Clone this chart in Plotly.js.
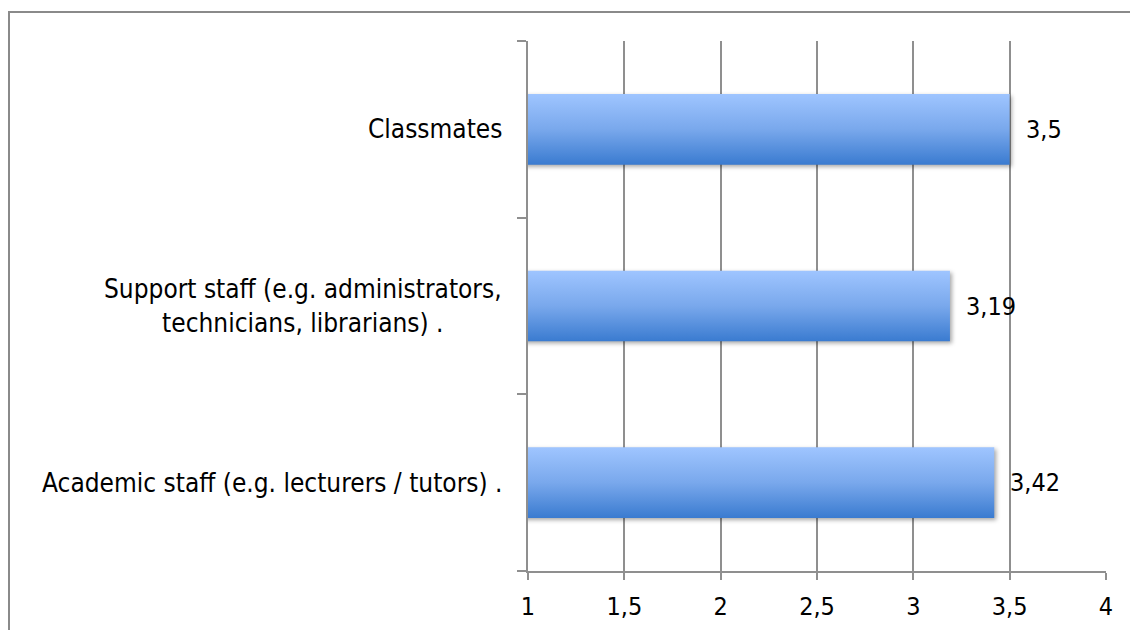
<!DOCTYPE html>
<html>
<head>
<meta charset="utf-8">
<script src="https://cdn.plot.ly/plotly-3.0.1.min.js"></script>
<style>
  html, body { margin: 0; padding: 0; background: #fff; }
  #chart { width: 1130px; height: 630px; }
</style>
</head>
<body>
<div id="chart"></div>
<script>
const categories = [
  "Academic staff (e.g. lecturers / tutors) .",
  "Support staff (e.g. administrators,<br>technicians, librarians) .",
  "Classmates"
];
const values = [3.42, 3.19, 3.5];
const valueLabels = ["3,42", "3,19", "3,5"];
const xTickVals = [1, 1.5, 2, 2.5, 3, 3.5, 4];
const xTickText = ["1", "1,5", "2", "2,5", "3", "3,5", "4"];

const FONT = '"DejaVu Sans Condensed", "DejaVu Sans", sans-serif';

const trace = {
  type: 'bar',
  orientation: 'h',
  x: values,
  y: categories,
  base: 0,
  width: 0.4,
  marker: { color: '#6a9be0', line: { width: 0 } },
  hoverinfo: 'skip'
};

const valueAnnotations = values.map((v, i) => ({
  x: v, y: categories[i], xref: 'x', yref: 'y',
  text: valueLabels[i], showarrow: false,
  xanchor: 'left', yanchor: 'middle', xshift: 14,
  font: { family: FONT, size: 25, color: '#000' }
}));

const categoryAnnotations = categories.map((c) => ({
  x: 0, y: c, xref: 'paper', yref: 'y',
  text: c, showarrow: false, align: 'center',
  xanchor: 'right', yanchor: 'middle', xshift: -24,
  font: { family: FONT, size: 26, color: '#000' }
}));

const layout = {
  width: 1130, height: 630,
  margin: { l: 528, r: 24, t: 41, b: 59, pad: 0 },
  paper_bgcolor: '#fff', plot_bgcolor: '#fff',
  showlegend: false,
  font: { family: FONT, size: 25, color: '#000' },
  xaxis: {
    range: [1, 4],
    tickvals: xTickVals, ticktext: xTickText,
    showgrid: true, gridcolor: '#8f8f8f', gridwidth: 2,
    zeroline: false,
    showline: true, linecolor: '#8f8f8f', linewidth: 2,
    ticks: 'outside', ticklen: 7, tickcolor: '#8f8f8f', tickwidth: 2,
    ticklabelstandoff: 5,
    tickfont: { family: FONT, size: 25, color: '#000' },
    fixedrange: true
  },
  yaxis: {
    type: 'category',
    range: [-0.5, 2.5],
    showgrid: false, zeroline: false,
    showline: true, linecolor: '#8f8f8f', linewidth: 2,
    ticks: 'outside', ticklen: 9, tickcolor: '#8f8f8f', tickwidth: 2,
    tickson: 'boundaries',
    showticklabels: false,
    fixedrange: true
  },
  annotations: valueAnnotations.concat(categoryAnnotations),
  shapes: [{
    type: 'rect', xref: 'paper', yref: 'paper',
    x0: (9 - 528) / 578, x1: 3, y0: -1, y1: (571 - 12) / 530,
    line: { color: '#8a8a8a', width: 2 }, fillcolor: 'rgba(0,0,0,0)', layer: 'below'
  }]
};

function applyGradient(gd) {
  const svg = gd.querySelector('svg.main-svg');
  const NS = 'http://www.w3.org/2000/svg';
  let defs = svg.querySelector('defs');
  if (!defs) { defs = document.createElementNS(NS, 'defs'); svg.insertBefore(defs, svg.firstChild); }
  const grad = document.createElementNS(NS, 'linearGradient');
  grad.setAttribute('id', 'barGrad');
  grad.setAttribute('x1', '0'); grad.setAttribute('y1', '0');
  grad.setAttribute('x2', '0'); grad.setAttribute('y2', '1');
  [['0', '#9fc5ff'], ['0.5', '#79a8ec'], ['1', '#3a7bd0']].forEach(([o, c]) => {
    const s = document.createElementNS(NS, 'stop');
    s.setAttribute('offset', o); s.setAttribute('stop-color', c);
    grad.appendChild(s);
  });
  defs.appendChild(grad);
  gd.querySelectorAll('.barlayer .point path').forEach(p => {
    p.style.fill = 'url(#barGrad)';
    p.style.filter = 'drop-shadow(2px 2px 2px rgba(0,0,0,0.35))';
  });
}

Plotly.newPlot('chart', [trace], layout, { staticPlot: true, displayModeBar: false })
  .then(applyGradient);
</script>
</body>
</html>
